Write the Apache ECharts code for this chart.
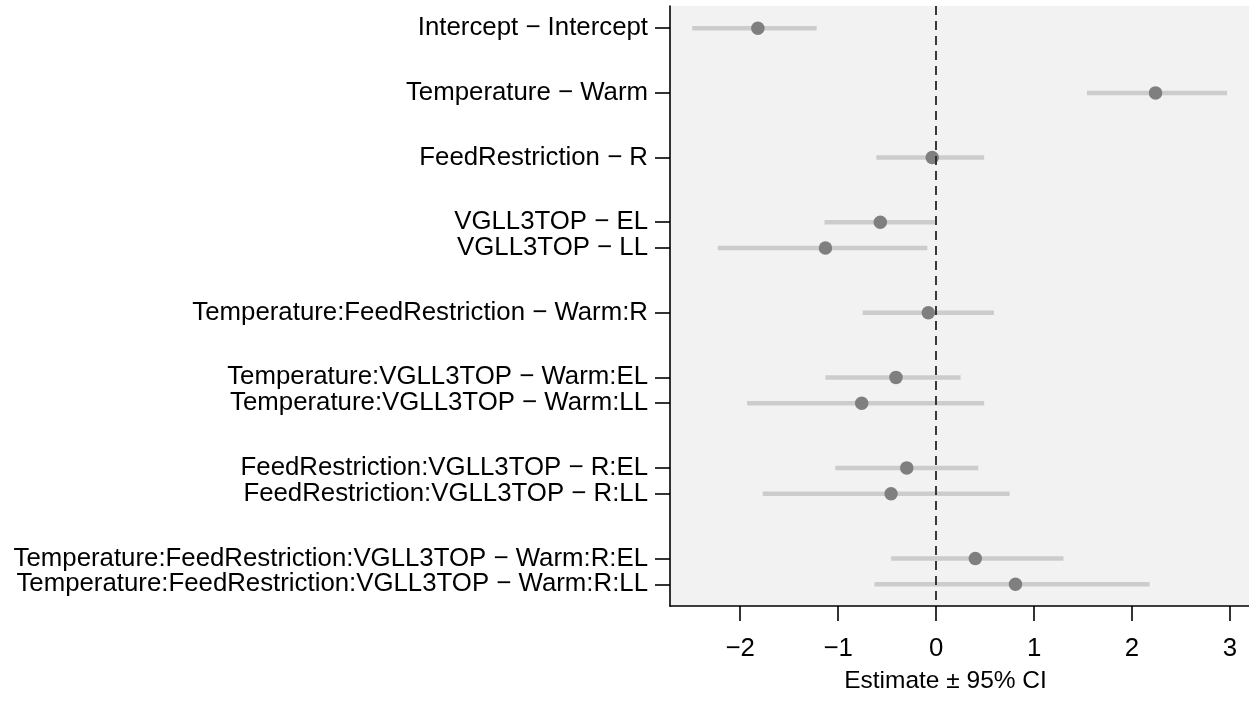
<!DOCTYPE html>
<html>
<head>
<meta charset="utf-8">
<script src="https://cdn.jsdelivr.net/npm/echarts@6/dist/echarts.min.js"></script>
<style>
html,body{margin:0;padding:0;background:#ffffff;}
#chart{width:1249px;height:702px;}
</style>
</head>
<body>
<div id="chart"></div>
<script>
// ---- data ----
const terms = [
  "Intercept \u2212 Intercept",
  "Temperature \u2212 Warm",
  "FeedRestriction \u2212 R",
  "VGLL3TOP \u2212 EL",
  "VGLL3TOP \u2212 LL",
  "Temperature:FeedRestriction \u2212 Warm:R",
  "Temperature:VGLL3TOP \u2212 Warm:EL",
  "Temperature:VGLL3TOP \u2212 Warm:LL",
  "FeedRestriction:VGLL3TOP \u2212 R:EL",
  "FeedRestriction:VGLL3TOP \u2212 R:LL",
  "Temperature:FeedRestriction:VGLL3TOP \u2212 Warm:R:EL",
  "Temperature:FeedRestriction:VGLL3TOP \u2212 Warm:R:LL"
];
const termGroup = [0, 1, 2, 3, 3, 4, 5, 5, 6, 6, 7, 7];
const estimates = [-1.82, 2.24, -0.04, -0.57, -1.13, -0.08, -0.41, -0.76, -0.30, -0.46, 0.40, 0.81];
const lower     = [-2.49, 1.54, -0.61, -1.14, -2.23, -0.75, -1.13, -1.93, -1.03, -1.77, -0.46, -0.63];
const upper     = [-1.22, 2.97, 0.49, -0.01, -0.09, 0.59, 0.25, 0.49, 0.43, 0.75, 1.30, 2.18];
const xTicks = [-2, -1, 0, 1, 2, 3];
const referenceValue = 0;
const xTitle = "Estimate \u00b1 95% CI";

// ---- row layout derived from the grouping ----
const rowPos = [];
let cur = 0;
for (let i = 0; i < terms.length; i++) {
  if (i > 0) cur += (termGroup[i] === termGroup[i - 1]) ? 1 : 2.5;
  rowPos.push(cur);
}
const labelByPos = {};
rowPos.forEach((p, i) => { labelByPos[p.toFixed(2)] = terms[i]; });

const FONT = "'Liberation Sans', Arial, Helvetica, sans-serif";
const minus = v => (v < 0 ? "\u2212" + Math.abs(v) : String(v));

const ciData = terms.map((t, i) => [lower[i], upper[i], rowPos[i]]);
const ptData = terms.map((t, i) => [estimates[i], rowPos[i]]);

const chart = echarts.init(document.getElementById('chart'), null, {renderer: 'canvas'});
chart.setOption({
  animation: false,
  backgroundColor: '#ffffff',
  grid: {
    left: 670, right: 0, top: 6, bottom: 96,
    show: true, backgroundColor: '#f2f2f2', borderWidth: 0
  },
  xAxis: {
    type: 'value',
    min: -2.717, max: 3.194,
    axisLine: {show: true, onZero: false, lineStyle: {color: '#000', width: 1.6}},
    axisTick: {show: true, length: 15, customValues: xTicks, lineStyle: {color: '#000', width: 1.6}},
    axisLabel: {
      customValues: xTicks, formatter: minus, margin: 30,
      fontSize: 25.8, color: '#000', fontFamily: FONT
    },
    splitLine: {show: false}
  },
  yAxis: {
    type: 'value',
    inverse: true,
    min: -0.86, max: 22.34,
    axisLine: {show: true, onZero: false, lineStyle: {color: '#000', width: 1.6}},
    axisTick: {show: true, length: 15, customValues: rowPos, lineStyle: {color: '#000', width: 1.6}},
    axisLabel: {
      customValues: rowPos,
      formatter: v => labelByPos[Number(v).toFixed(2)] || '',
      margin: 22, fontSize: 25.8, color: '#000', fontFamily: FONT
    },
    splitLine: {show: false}
  },
  graphic: [{
    type: 'text',
    x: 945.5, y: 669,
    style: {
      text: xTitle, fontSize: 24.5, fill: '#000', fontFamily: FONT,
      textAlign: 'center', textVerticalAlign: 'top'
    }
  }],
  series: [
    {
      type: 'custom',
      z: 2,
      data: ciData,
      encode: {x: [0, 1], y: 2},
      renderItem: function (params, api) {
        const a = api.coord([api.value(0), api.value(2)]);
        const b = api.coord([api.value(1), api.value(2)]);
        return {
          type: 'line',
          shape: {x1: a[0], y1: a[1], x2: b[0], y2: b[1]},
          style: {stroke: '#cccccc', lineWidth: 4.5, lineCap: 'butt'}
        };
      }
    },
    {
      type: 'scatter',
      z: 3,
      data: ptData,
      symbol: 'circle',
      symbolSize: 13.5,
      itemStyle: {color: '#7f7f7f', opacity: 1},
      emphasis: {disabled: true},
      markLine: {
        silent: true,
        symbol: ['none', 'none'],
        label: {show: false},
        z: 5,
        lineStyle: {type: [9, 6], color: '#262626', width: 1.8},
        data: [{xAxis: referenceValue}]
      }
    }
  ]
});
</script>
</body>
</html>
